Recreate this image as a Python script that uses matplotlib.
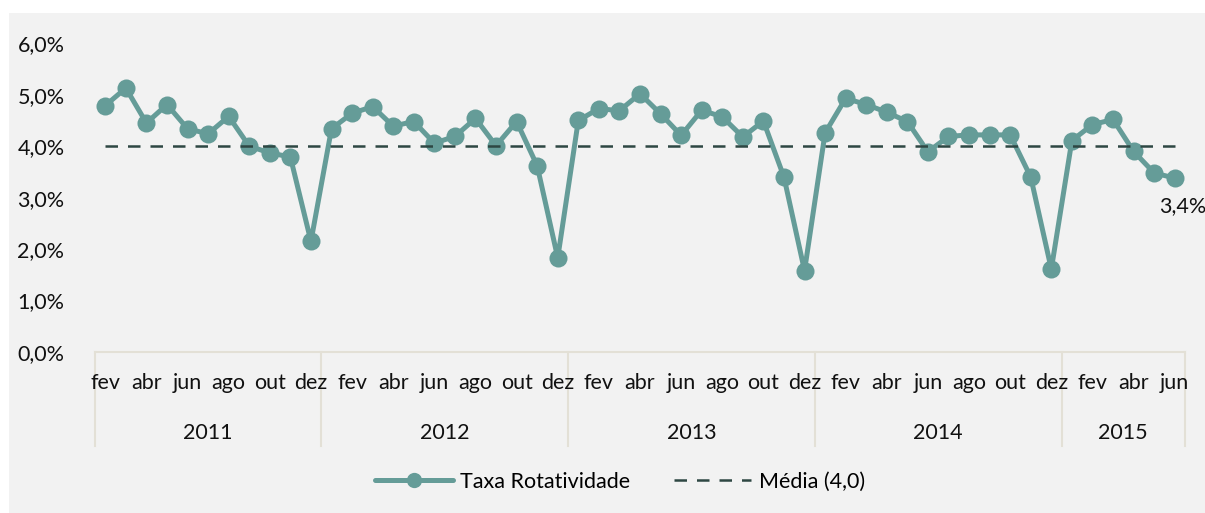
import matplotlib
matplotlib.use("Agg")
import matplotlib.pyplot as plt
from matplotlib.lines import Line2D
from matplotlib.patches import Rectangle
import matplotlib.transforms as mtransforms

plt.rcParams['font.family'] = ['Lato', 'DejaVu Sans']

months_all = ['jan', 'fev', 'mar', 'abr', 'mai', 'jun', 'jul', 'ago', 'set', 'out', 'nov', 'dez']
years = ['2011', '2012', '2013', '2014', '2015']
year_months = [months_all[1:], months_all, months_all, months_all, months_all[:6]]

rate_2011 = [4.79, 5.13, 4.45, 4.81, 4.34, 4.24, 4.58, 4.00, 3.87, 3.79, 2.15]
rate_2012 = [4.34, 4.64, 4.77, 4.39, 4.48, 4.06, 4.19, 4.54, 4.01, 4.48, 3.62, 1.83]
rate_2013 = [4.50, 4.73, 4.69, 5.02, 4.63, 4.21, 4.70, 4.57, 4.18, 4.49, 3.40, 1.58]
rate_2014 = [4.26, 4.93, 4.81, 4.66, 4.48, 3.89, 4.19, 4.22, 4.22, 4.22, 3.40, 1.61]
rate_2015 = [4.11, 4.42, 4.52, 3.90, 3.48, 3.38]
media = 4.0
last_label = '3,4%'

rates = rate_2011 + rate_2012 + rate_2013 + rate_2014 + rate_2015
labels = [m for ms in year_months for m in ms]
n = len(rates)
x = list(range(n))

line_color = '#659c98'
dash_color = '#2e4743'
sep_color = '#e3e0d6'
text_color = '#111111'
fs = 15.5

fig = plt.figure(figsize=(12.05, 5.13), dpi=100)
fig.patch.set_facecolor('white')
fig.patches.append(Rectangle((9 / 1205, 0), 1 - 9 / 1205, 1 - 13 / 513,
                             transform=fig.transFigure, facecolor='#f2f2f2',
                             edgecolor='none', zorder=-10))

ax = fig.add_axes([95 / 1205, 1 - 352 / 513, 1090 / 1205, (352 - 43.3) / 513])
ax.set_facecolor('none')

ax.plot(x, rates, color=line_color, lw=3.6, marker='o', markersize=13,
        markeredgewidth=0, solid_joinstyle='round', zorder=3)
ax.plot(x, [media] * n, color=dash_color, lw=1.8, dashes=(5, 4), zorder=4)

ax.annotate(last_label, (x[-1], rates[-1]), xytext=(6, -20), textcoords='offset points',
            ha='center', va='center', fontsize=fs, color=text_color)

ax.set_xlim(-0.5, n - 0.5)
ax.set_ylim(0, 6)
ax.set_yticks([0, 1, 2, 3, 4, 5, 6])
ax.set_yticklabels([f'{v:.1f}%'.replace('.', ',') for v in range(7)])

tick_idx = [i for i in x if i % 2 == 0]
ax.set_xticks(tick_idx)
ax.set_xticklabels([labels[i] for i in tick_idx])
ax.tick_params(axis='x', length=0, pad=15, labelsize=fs, colors=text_color)
ax.tick_params(axis='y', length=0, pad=22, labelsize=fs, colors=text_color)

for s in ['top', 'right', 'left']:
    ax.spines[s].set_visible(False)
ax.spines['bottom'].set_color(sep_color)
ax.spines['bottom'].set_linewidth(1.5)

trans = mtransforms.blended_transform_factory(ax.transData, ax.transAxes)
pos = -0.5
bounds = [pos]
for ms in year_months:
    pos += len(ms)
    bounds.append(pos)
for b in bounds:
    ax.add_line(Line2D([b, b], [0, -0.305], transform=trans, color=sep_color,
                       lw=1.5, clip_on=False, zorder=1))
for i, yr in enumerate(years):
    ax.text((bounds[i] + bounds[i + 1]) / 2, -0.262, yr, transform=trans,
            ha='center', va='center', fontsize=fs, color=text_color)

h1 = Line2D([], [], color=line_color, lw=3.6, marker='o', markersize=11, markeredgewidth=0,
            solid_capstyle='round')
h2 = Line2D([], [], color=dash_color, lw=1.8, dashes=(5, 4))
fig.legend([h1, h2], ['Taxa Rotatividade', 'Média (4,0)'], loc='center',
           bbox_to_anchor=(620 / 1205, 1 - 482 / 513), ncol=2, frameon=False,
           fontsize=fs, handlelength=3.6, columnspacing=2.0, handletextpad=0.35)

fig.savefig('out.png', dpi=100, facecolor=fig.get_facecolor())
